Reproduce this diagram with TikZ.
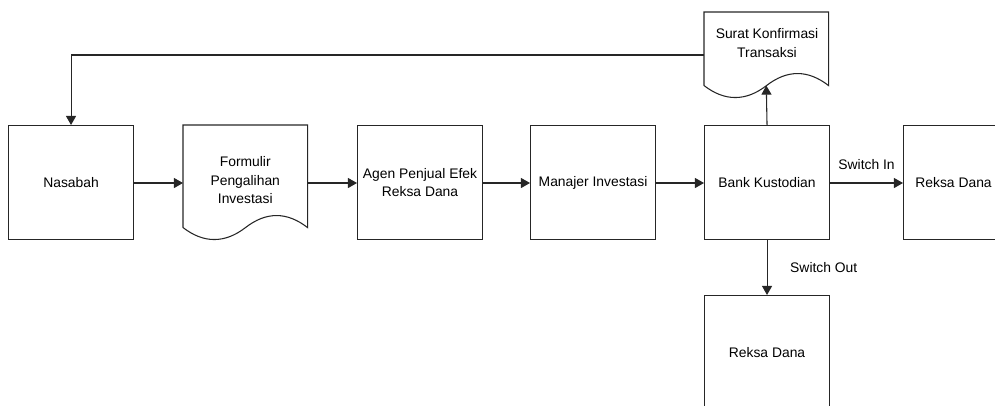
\documentclass[tikz,border=0pt]{standalone}
\usepackage{fontspec}
\setmainfont{Liberation Sans}
\usetikzlibrary{arrows.meta}
\tikzset{
  box/.style={draw=black!85, line width=0.8pt, minimum width=93.75pt, minimum height=85.5pt, inner sep=0pt, align=center, anchor=north west},
  docnode/.style={minimum width=93pt, inner sep=0pt, align=center, anchor=north west},
  doctext/.style={align=center, inner sep=0pt},
  docline/.style={draw=black!85, line width=0.8pt},
  conn/.style={draw=black!85, line width=0.8pt, -{Triangle[length=6.8pt,width=7.5pt]}},
  lbl/.style={inner sep=0pt}
}
\begin{document}
\begin{tikzpicture}[x=0.75pt,y=-0.75pt, font=\fontsize{10.4}{13.9}\selectfont]
\clip (0,0) rectangle (995,405);
\useasboundingbox (0,0) rectangle (995,405);
% boxes
\node[box] (n) at (8,125) {Nasabah};
\node[box] (a) at (357,125) {Agen Penjual Efek\\Reksa Dana};
\node[box] (m) at (530,125) {Manajer Investasi};
\node[box] (b) at (704,125) {Bank Kustodian};
\node[box, minimum width=75pt] (r1) at (903,125) {Reksa Dana};
\node[box] (r2) at (704,295) {Reksa Dana};
% documents
\node[docnode, minimum height=76.5pt] (f) at (183,125) {};
\node[doctext] (ft) at ([yshift=-3pt]f.center) {Formulir\\Pengalihan\\Investasi};
\draw[docline] (f.south west) -- (f.north west) -- (f.north east) -- (f.south east)
  .. controls +(-20.7,-16) and +(20.7,-16) .. ([xshift=-46.5pt]f.south east)
  .. controls +(-20.7,16) and +(20.7,16) .. (f.south west);
\node[docnode, minimum height=54.75pt] (s) at (704,12) {};
\node[doctext] (st) at (767,43) {Surat Konfirmasi\\Transaksi};
\draw[docline] (s.south west) -- (s.north west) -- (s.north east) -- (s.south east)
  .. controls +(-20.7,-16) and +(20.7,-16) .. ([xshift=-46.5pt]s.south east)
  .. controls +(-20.7,16) and +(20.7,16) .. (s.south west);
% connectors
\draw[conn] (n.east |- 0,183) -- (f.west |- 0,183);
\draw[conn] (f.east |- 0,183) -- (a.west |- 0,183);
\draw[conn] (a.east |- 0,183) -- (m.west |- 0,183);
\draw[conn] (m.east |- 0,183) -- (b.west |- 0,183);
\draw[conn] (b.east |- 0,183) -- node[lbl, above=10pt] {Switch In} (r1.west |- 0,183);
\draw[conn] (b.south) -- node[lbl, right=17pt] {Switch Out} (r2.north);
\draw[conn] (b.north) -- (s.south);
\coordinate (lp) at (70.5,55);
\draw[conn] (s.west |- lp) -| (n.north);
\end{tikzpicture}
\end{document}
